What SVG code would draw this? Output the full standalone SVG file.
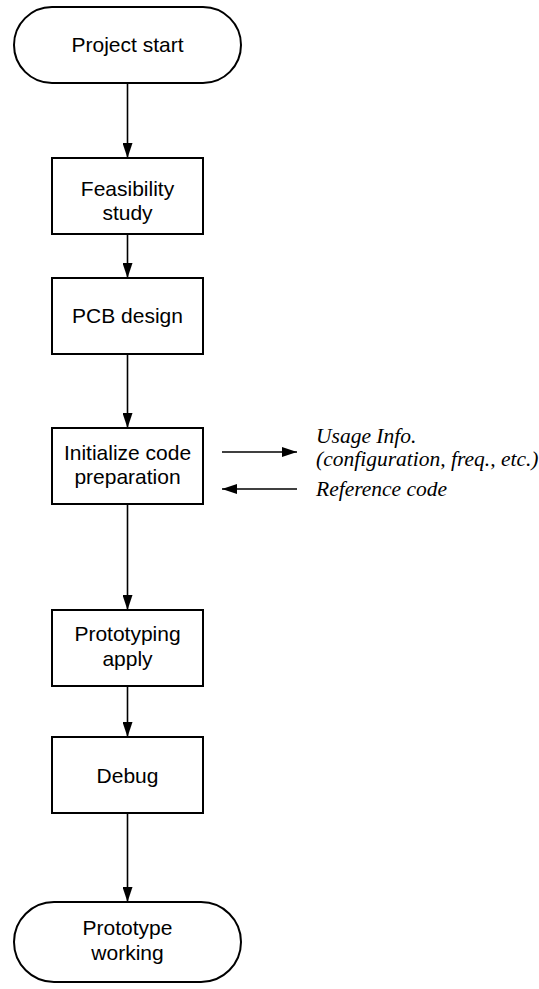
<svg xmlns="http://www.w3.org/2000/svg" width="539" height="989" viewBox="0 0 539 989">
<style>
.n{fill:#fff;stroke:#000;stroke-width:2}
.t{font-family:"Liberation Sans",Arial,sans-serif;font-size:21px;fill:#000;text-anchor:middle}
.i{font-family:"Liberation Serif","Times New Roman",serif;font-size:21.5px;font-style:italic;fill:#000}
.c{stroke:#000;stroke-width:1.6;fill:none;marker-end:url(#a)}
</style>
<defs>
<marker id="a" viewBox="0 0 15 10" refX="15" refY="5" markerWidth="15" markerHeight="10" markerUnits="userSpaceOnUse" orient="auto"><path d="M0,0 L15,5 L0,10 z" fill="#000"/></marker>
</defs>
<rect width="539" height="989" fill="#fff"/>
<g id="connectors">
<line class="c" x1="127.5" y1="83" x2="127.5" y2="158"/>
<line class="c" x1="127.5" y1="234" x2="127.5" y2="278"/>
<line class="c" x1="127.5" y1="354" x2="127.5" y2="428"/>
<line class="c" x1="127.5" y1="504" x2="127.5" y2="610"/>
<line class="c" x1="127.5" y1="686" x2="127.5" y2="737"/>
<line class="c" x1="127.5" y1="813" x2="127.5" y2="902"/>
<line class="c" x1="222" y1="452" x2="297" y2="452"/>
<line class="c" x1="297" y1="489" x2="222" y2="489"/>
</g>
<g id="start"><rect class="n" x="14" y="7" width="227" height="76" rx="38"/><text class="t" x="127.5" y="52">Project start</text></g>
<g id="feasibility"><rect class="n" x="52" y="158" width="151" height="76"/><text class="t" x="127.5" y="196">Feasibility</text><text class="t" x="127.5" y="220">study</text></g>
<g id="pcb"><rect class="n" x="52" y="278" width="151" height="76"/><text class="t" x="127.5" y="323">PCB design</text></g>
<g id="init"><rect class="n" x="52" y="428" width="151" height="76"/><text class="t" x="127.5" y="460">Initialize code</text><text class="t" x="127.5" y="484">preparation</text></g>
<g id="proto"><rect class="n" x="52" y="610" width="151" height="76"/><text class="t" x="127.5" y="641">Prototyping</text><text class="t" x="127.5" y="666">apply</text></g>
<g id="debug"><rect class="n" x="52" y="737" width="151" height="76"/><text class="t" x="127.5" y="783">Debug</text></g>
<g id="end"><rect class="n" x="14" y="902" width="227" height="80" rx="40"/><text class="t" x="127.5" y="935">Prototype</text><text class="t" x="127.5" y="960">working</text></g>
<g id="labels">
<text class="i" x="316" y="443">Usage Info.</text>
<text class="i" x="316" y="466">(configuration, freq., etc.)</text>
<text class="i" x="316" y="496">Reference code</text>
</g>
</svg>
